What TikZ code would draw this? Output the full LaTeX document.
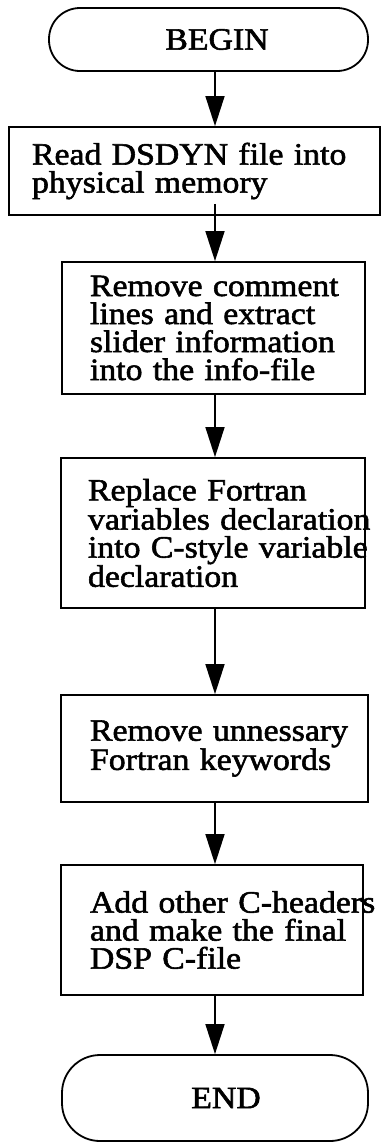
\documentclass[tikz,border=0pt]{standalone}
\usepackage{fontspec}
\setmainfont{Liberation Serif}[FakeStretch=1.09,FakeBold=1.8]
\usetikzlibrary{arrows.meta}
\begin{document}
\begin{tikzpicture}[x=1pt,y=-1pt,
  txt/.style={font=\fontsize{31}{28}\selectfont},
  box/.style={draw,line width=1.8pt,align=left,inner sep=0pt,txt},
  term/.style={draw,line width=1.8pt,inner sep=0pt,txt},
  arr/.style={line width=1.6pt,-{Triangle[length=30pt,width=19pt]}}]
\fill[white] (0,0) rectangle (387,1144);
\useasboundingbox (0,0) rectangle (387,1144);
\coordinate (ax) at (215,0);

\node[term,rounded corners=31pt,minimum width=319pt,minimum height=63pt] (begin) at (208.5,39.5) {\kern17pt BEGIN};

\node[box,minimum width=371pt,minimum height=88pt,text width=325pt] (b1) at (194.5,171)
  {\mbox{Read DSDYN file into}\\\mbox{physical memory}};

\node[box,minimum width=303pt,minimum height=132pt,text width=247pt] (b2) at (213.5,328)
  {\mbox{Remove comment}\\\mbox{lines and extract}\\\mbox{slider information}\\\mbox{into the info-file}};

\node[box,minimum width=304pt,minimum height=150pt,text width=250pt] (b3) at (213,533)
  {\mbox{Replace Fortran}\\\mbox{variables declaration}\\\mbox{into C-style variable}\\\mbox{declaration}};

\node[box,minimum width=307pt,minimum height=107pt,text width=249pt] (b4) at (214.5,748.5)
  {\mbox{Remove unnessary}\\\mbox{Fortran keywords}};

\node[box,minimum width=302pt,minimum height=130pt,text width=244pt] (b5) at (212,930)
  {\mbox{Add other C-headers}\\\mbox{and make the final}\\\mbox{DSP C-file}};

\node[term,rounded corners=38pt,minimum width=306pt,minimum height=86pt] (end) at (215,1098) {\kern22pt END};

\coordinate (b1s) at ([yshift=12pt]b1.south);
\draw[arr] (begin.south -| ax) -- (b1.north -| ax);
\draw[arr] (b1s -| ax) -- (b2.north -| ax);
\draw[arr] (b2.south -| ax) -- (b3.north -| ax);
\draw[arr] (b3.south -| ax) -- (b4.north -| ax);
\draw[arr] (b4.south -| ax) -- (b5.north -| ax);
\draw[arr] (b5.south -| ax) -- (end.north -| ax);
\end{tikzpicture}
\end{document}
